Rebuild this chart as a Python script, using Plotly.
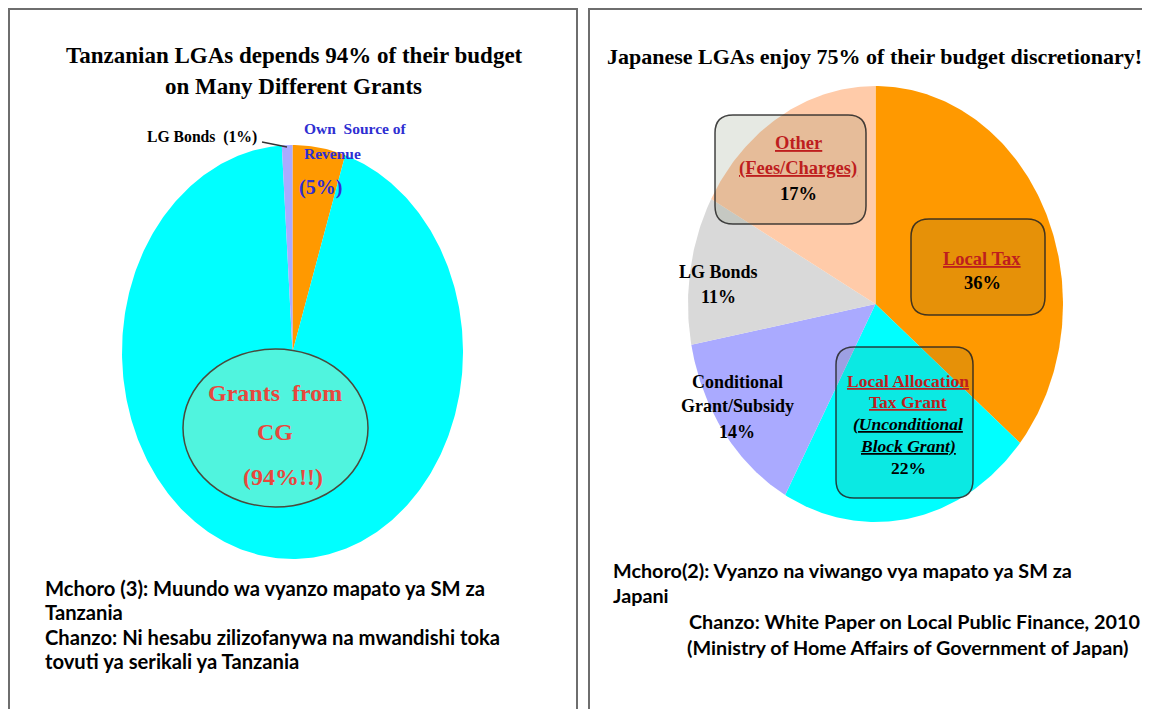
import numpy as np
import plotly.graph_objects as go

# page is 1150x709; the html body has an 8px margin, so the figure is placed at (8, 8)
PAGE_W, PAGE_H = 1150, 709
OFF = 8
FW, FH = PAGE_W - OFF, PAGE_H - OFF

# ---------------- data ----------------
tz_labels = ["Own Source of Revenue", "Grants from CG", "LG Bonds"]
tz_values = [5, 94, 1]
tz_colors = ["#FF9900", "#00FFFF", "#AAAAFF"]

jp_labels = ["Local Tax", "Local Allocation Tax Grant", "Conditional Grant/Subsidy",
             "LG Bonds", "Other (Fees/Charges)"]
jp_values = [36, 22, 14, 11, 17]
jp_colors = ["#FF9900", "#00FFFF", "#AAAAFF", "#D9D9D9", "#FFCBA9"]

tz_title = ["Tanzanian LGAs depends 94% of their budget", "on Many Different Grants"]
jp_title = "Japanese LGAs enjoy 75% of their budget discretionary!"

tz_caption = ["Mchoro (3): Muundo wa vyanzo mapato ya SM za", "Tanzania",
              "Chanzo: Ni hesabu zilizofanywa na mwandishi toka",
              "tovuti ya serikali ya Tanzania"]
jp_caption = ["Mchoro(2): Vyanzo na viwango vya mapato ya SM za", "Japani",
              "Chanzo: White Paper on Local Public Finance, 2010",
              "(Ministry of Home Affairs of Government of Japan)"]

SERIF = "Liberation Serif, Times New Roman, serif"
SANS = "Lato, Carlito, Calibri, sans-serif"
RED = "#BE1E1E"
BLUE = "#2F2FD2"


def wedges(values):
    """Clockwise pie wedges from 12 o'clock in a unit circle."""
    cum = np.concatenate([[0.0], np.cumsum(values)]) / float(sum(values))
    out = []
    for a0, a1 in zip(cum[:-1], cum[1:]):
        n = max(6, int((a1 - a0) * 480))
        t = np.linspace(a0, a1, n) * 2 * np.pi
        xs = np.concatenate([[0.0], np.sin(t), [0.0]])
        ys = np.concatenate([[0.0], np.cos(t), [0.0]])
        out.append((xs, ys))
    return out


fig = go.Figure()

for (xs, ys), lab, col in zip(wedges(tz_values), tz_labels, tz_colors):
    fig.add_trace(go.Scatter(x=xs, y=ys, mode="lines", fill="toself", fillcolor=col,
                             line=dict(width=0, color=col), name=lab, hoverinfo="name",
                             xaxis="x", yaxis="y"))
for (xs, ys), lab, col in zip(wedges(jp_values), jp_labels, jp_colors):
    fig.add_trace(go.Scatter(x=xs, y=ys, mode="lines", fill="toself", fillcolor=col,
                             line=dict(width=0, color=col), name=lab, hoverinfo="name",
                             xaxis="x2", yaxis="y2"))
# overlay axis in page-pixel units for decorations and text
fig.add_trace(go.Scatter(x=[None], y=[None], xaxis="x3", yaxis="y3", showlegend=False,
                         hoverinfo="skip"))


def dom_x(a, b):
    return [(a - OFF) / FW, (b - OFF) / FW]


def dom_y(top, bottom):
    return [1 - (bottom - OFF) / FH, 1 - (top - OFF) / FH]


hidden = dict(visible=False, fixedrange=True, showgrid=False, zeroline=False)
fig.update_layout(
    width=FW, height=FH, margin=dict(l=0, r=0, t=0, b=0),
    paper_bgcolor="white", plot_bgcolor="rgba(0,0,0,0)", showlegend=False,
    xaxis=dict(domain=dom_x(122, 463), range=[-1, 1], anchor="y", **hidden),
    yaxis=dict(domain=dom_y(145, 559), range=[-1, 1], anchor="x", **hidden),
    xaxis2=dict(domain=dom_x(688, 1063), range=[-1, 1], anchor="y2", **hidden),
    yaxis2=dict(domain=dom_y(86, 522), range=[-1, 1], anchor="x2", **hidden),
    xaxis3=dict(domain=[0, 1], range=[OFF, OFF + FW], anchor="y3", **hidden),
    yaxis3=dict(domain=[0, 1], range=[OFF + FH, OFF], anchor="x3", **hidden),
)


def rounded(x0, y0, x1, y1, r):
    return (f"M{x0+r},{y0} L{x1-r},{y0} Q{x1},{y0} {x1},{y0+r} L{x1},{y1-r} "
            f"Q{x1},{y1} {x1-r},{y1} L{x0+r},{y1} Q{x0},{y1} {x0},{y1-r} "
            f"L{x0},{y0+r} Q{x0},{y0} {x0+r},{y0} Z")


ref = dict(xref="x3", yref="y3")
shapes = [
    dict(type="rect", x0=9, y0=9, x1=577, y1=730, line=dict(color="#6E6E6E", width=2),
         layer="below", **ref),
    dict(type="rect", x0=589, y0=9, x1=1180, y1=730, line=dict(color="#6E6E6E", width=2),
         layer="below", **ref),
    dict(type="line", x0=262, y0=142, x1=287, y1=147, line=dict(color="#333333", width=1.5),
         layer="above", **ref),
    dict(type="circle", x0=183, y0=349, x1=368, y1=507, fillcolor="#50F4DE",
         line=dict(color="#4A4A3C", width=1.5), layer="above", **ref),
]
box_fill = "rgba(76,98,55,0.14)"
box_line = dict(color="rgba(35,35,35,0.85)", width=1.5)
for (x0, y0, x1, y1) in [(715, 115, 866, 224), (911, 219, 1045, 315), (836, 347, 973, 498)]:
    shapes.append(dict(type="path", path=rounded(x0, y0, x1, y1, 18), fillcolor=box_fill,
                       line=box_line, layer="above", **ref))
fig.update_layout(shapes=shapes)


def ann(text, x, y, size, color="black", family=SERIF, xanchor="center"):
    fig.add_annotation(text=text, x=x, y=y, xref="x3", yref="y3", showarrow=False,
                       xanchor=xanchor, yanchor="middle",
                       font=dict(family=family, size=size, color=color))


# titles
ann(f"<b>{tz_title[0]}</b>", 294, 55, 23)
ann(f"<b>{tz_title[1]}</b>", 293, 86, 23)
ann(f"<b>{jp_title}</b>", 874, 56, 22)

# left pie labels
ann("<b>LG Bonds  (1%)</b>", 202, 137, 15.7)
ann("<b>Own  Source of</b>", 302, 128, 15.5, BLUE, xanchor="left")
ann("<b>Revenue</b>", 302, 153, 15.5, BLUE, xanchor="left")
ann("<b>(5%)</b>", 297, 187, 20, BLUE, xanchor="left")
ann("<b>Grants  from</b>", 275, 393, 24, "#E8473D")
ann("<b>CG</b>", 275, 432, 24, "#E8473D")
ann("<b>(94%!!)</b>", 283, 477, 24, "#E8473D")

# right pie labels
ann("<b><u>Other</u></b>", 798, 143, 18.5, RED)
ann("<b><u>(Fees/Charges)</u></b>", 798, 168, 18.5, RED)
ann("<b>17%</b>", 798, 194, 18.5)
ann("<b><u>Local Tax</u></b>", 982, 259, 18.5, RED)
ann("<b>36%</b>", 982, 283, 18.5)
ann("<b><u>Local Allocation</u></b>", 908, 381, 17.5, RED)
ann("<b><u>Tax Grant</u></b>", 908, 402, 17.5, RED)
ann("<b><i><u>(Unconditional</u></i></b>", 908, 424, 17.5)
ann("<b><i><u>Block Grant)</u></i></b>", 908, 446, 17.5)
ann("<b>22%</b>", 908, 468, 17.5)
ann("<b>LG Bonds</b>", 718, 272, 18)
ann("<b>11%</b>", 718, 297, 18)
ann("<b>Conditional</b>", 737, 382, 18)
ann("<b>Grant/Subsidy</b>", 737, 406, 18)
ann("<b>14%</b>", 737, 432, 18)

# captions
for txt, y in zip(tz_caption, [588, 612, 637, 661]):
    ann(f"<b>{txt}</b>", 43, y, 20.2, family=SANS, xanchor="left")
for txt, (x, y) in zip(jp_caption, [(611, 570), (611, 595), (687, 621), (685, 647)]):
    ann(f"<b>{txt}</b>", x, y, 19.8, family=SANS, xanchor="left")

fig.write_html("out.html")
